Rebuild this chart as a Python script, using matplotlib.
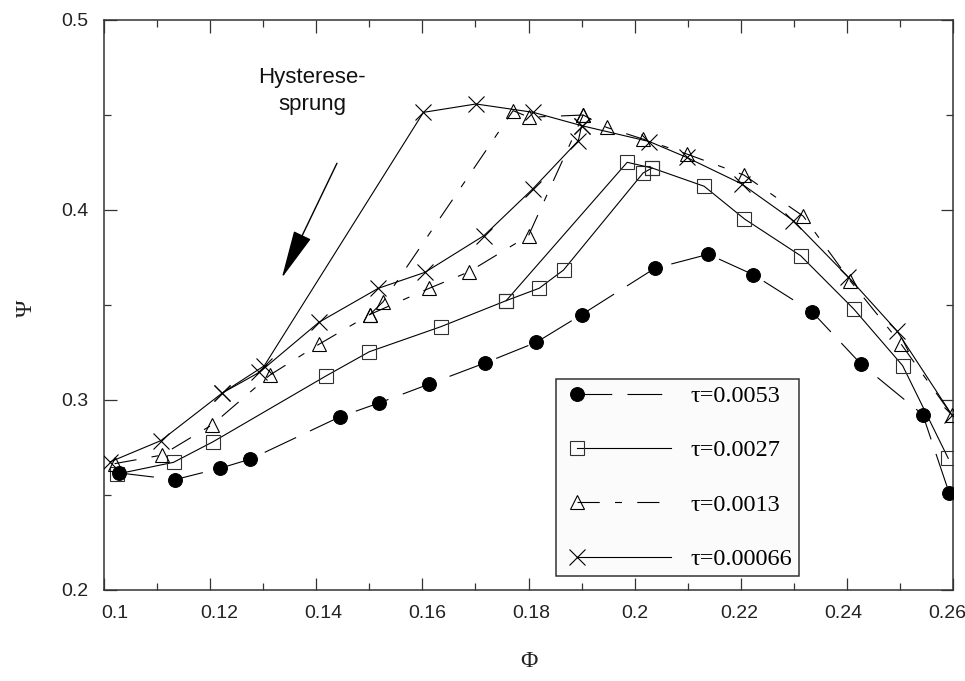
import numpy as np
import matplotlib
matplotlib.use("Agg")
import matplotlib.pyplot as plt
from matplotlib.legend_handler import HandlerLine2D
from matplotlib.ticker import MultipleLocator, FormatStrFormatter
from matplotlib.transforms import ScaledTranslation

plt.rcParams["lines.scale_dashes"] = False

# ---- measured data: Psi over Phi for four relaxation times tau ----
tau_labels = ["τ=0.0053", "τ=0.0027", "τ=0.0013", "τ=0.00066"]

# tau = 0.0053 (filled circles, single branch)
phi_c = [0.1029, 0.1134, 0.1219, 0.1276, 0.1445, 0.1518, 0.1613, 0.1718, 0.1815,
         0.1900, 0.2038, 0.2139, 0.2224, 0.2334, 0.2426, 0.2543, 0.2593]
psi_c = [0.2616, 0.2581, 0.2641, 0.2689, 0.2912, 0.2984, 0.3084, 0.3195, 0.3304,
         0.3449, 0.3693, 0.3767, 0.3659, 0.3465, 0.3191, 0.2923, 0.2509]

# tau = 0.0027 (open squares): rising sweep and return jump
phi_s = [0.1024, 0.1131, 0.1206, 0.1418, 0.1500, 0.1635, 0.1758, 0.1820, 0.1866,
         0.2016, 0.2033, 0.2131, 0.2207, 0.2313, 0.2413, 0.2505, 0.2591]
psi_s = [0.2610, 0.2672, 0.2781, 0.3126, 0.3254, 0.3386, 0.3523, 0.3588, 0.3684,
         0.4195, 0.4221, 0.4125, 0.3953, 0.3759, 0.3479, 0.3181, 0.2693]
phi_s_back = [0.2033, 0.1986, 0.1758]
psi_s_back = [0.4221, 0.4251, 0.3523]

# tau = 0.0013 (open triangles): rising sweep and return branch
phi_t = [0.1020, 0.1109, 0.1204, 0.1313, 0.1405, 0.1501, 0.1613, 0.1688, 0.1800,
         0.1903, 0.1947, 0.2015, 0.2098, 0.2206, 0.2318, 0.2406, 0.2502, 0.2598]
psi_t = [0.2665, 0.2710, 0.2870, 0.3132, 0.3293, 0.3450, 0.3588, 0.3675, 0.3865,
         0.4500, 0.4435, 0.4374, 0.4295, 0.4184, 0.3967, 0.3628, 0.3295, 0.2921]
phi_t_back = [0.1903, 0.1801, 0.1771, 0.1526, 0.1501]
psi_t_back = [0.4500, 0.4488, 0.4523, 0.3517, 0.3450]

# tau = 0.00066 (crosses): rising sweep and return branch
phi_x = [0.1012, 0.1107, 0.1223, 0.1293, 0.1405, 0.1517, 0.1605, 0.1716, 0.1808,
         0.1894, 0.1900, 0.2028, 0.2098, 0.2202, 0.2299, 0.2403, 0.2494, 0.2598]
psi_x = [0.2675, 0.2786, 0.3037, 0.3146, 0.3409, 0.3588, 0.3672, 0.3865, 0.4111,
         0.4365, 0.4444, 0.4360, 0.4277, 0.4137, 0.3944, 0.3646, 0.3365, 0.2921]
phi_x_back = [0.1900, 0.1809, 0.1701, 0.1602, 0.1302, 0.1223]
psi_x_back = [0.4444, 0.4514, 0.4558, 0.4514, 0.3180, 0.3037]

x_ticks = [0.1, 0.12, 0.14, 0.16, 0.18, 0.2, 0.22, 0.24, 0.26]
y_ticks = [0.2, 0.3, 0.4, 0.5]

# ---- figure ----
fig = plt.figure(figsize=(9.65, 6.81), dpi=100)
ax = fig.add_axes([104 / 965, 1 - 590 / 681, (953 - 104) / 965, (590 - 20) / 681])

lw = 0.8
dash_c = (0, (25, 11))
dash_t = (0, (16, 11, 5, 11))

styles = [
    dict(marker="o", ms=10, mfc="black", mec="black", mew=0.7, ls=dash_c),
    dict(marker="s", ms=9.5, mfc="none", mec="#303030", mew=0.8, ls="-"),
    dict(marker="^", ms=10, mfc="none", mec="black", mew=0.8, ls=dash_t),
    dict(marker="x", ms=11, mfc="none", mec="black", mew=0.8, ls="-"),
]

main_data = [(phi_c, psi_c), (phi_s, psi_s), (phi_t, psi_t), (phi_x, psi_x)]
back_data = [None, (phi_s_back, psi_s_back), (phi_t_back, psi_t_back),
             (phi_x_back, psi_x_back)]

handles = {}
for i in [1, 2, 3, 0]:
    st = styles[i]
    phi, psi = main_data[i]
    h, = ax.plot(phi, psi, color="black", lw=lw, zorder=4 if i == 0 else 3, **st)
    handles[i] = h
    if back_data[i] is not None:
        bphi, bpsi = back_data[i]
        ax.plot(bphi, bpsi, color="black", lw=lw, zorder=3, **st)
handles = [handles[i] for i in range(4)]

ax.set_xlim(0.1, 0.26)
ax.set_ylim(0.2, 0.5)
ax.set_xticks(x_ticks)
ax.set_yticks(y_ticks)
ax.xaxis.set_minor_locator(MultipleLocator(0.01))
ax.yaxis.set_minor_locator(MultipleLocator(0.05))
ax.xaxis.set_major_formatter(FormatStrFormatter("%g"))
ax.yaxis.set_major_formatter(FormatStrFormatter("%g"))

ax.tick_params(which="both", direction="in", top=True, right=True,
               color="#333333", width=0.9)
ax.tick_params(which="major", length=9, labelsize=14, pad=11,
               labelcolor="#222222")
ax.tick_params(which="minor", length=5)
for lab in ax.get_xticklabels() + ax.get_yticklabels():
    lab.set_family("Liberation Sans")

# x tick labels are spread a little narrower than the ticks themselves
n = len(x_ticks)
for k, lab in enumerate(ax.get_xticklabels()):
    dx = 11 - 17 * k / (n - 1)
    lab.set_transform(lab.get_transform()
                      + ScaledTranslation(dx / 100, 0, fig.dpi_scale_trans))

for sp in ax.spines.values():
    sp.set_color("#333333")
    sp.set_linewidth(1.1)

ax.set_xlabel("Φ", family="Liberation Serif", fontsize=17, color="#222222")
ax.xaxis.set_label_coords(0.5, -0.107)
ax.set_ylabel("Ψ", family="Liberation Serif", fontsize=17, color="#222222")
ax.yaxis.set_label_coords(-0.079, 0.495)

# annotation of the hysteresis jump
ax.text(0.1392, 0.4626, "Hysterese-\nsprung", ha="center", va="center",
        fontsize=16, family="Liberation Sans", linespacing=1.4, color="#111111")
ax.annotate("", xy=(0.1335, 0.3642), xytext=(0.1439, 0.4246),
            arrowprops=dict(arrowstyle="-|>,head_length=3.1,head_width=0.6",
                            color="black", lw=1.0, shrinkA=0, shrinkB=0,
                            mutation_scale=10))


class MarkerAtStart(HandlerLine2D):
    """Legend entry with the marker at the left end of the line sample."""

    def create_artists(self, legend, orig_handle, xdescent, ydescent, width,
                       height, fontsize, trans):
        arts = super().create_artists(legend, orig_handle, xdescent, ydescent,
                                      width, height, fontsize, trans)
        line = arts[0]
        x = line.get_xdata()
        y = line.get_ydata()
        off = 0.62 * fontsize
        line.set_data([x[0] + off, x[-1]], [y[0], y[-1]])
        line.set_markevery([0])
        return arts


leg = ax.legend(handles, tau_labels, loc="upper left",
                bbox_to_anchor=((556 - 104) / 849, (590 - 379) / 570),
                borderaxespad=0, prop={"family": "Liberation Serif", "size": 17.5},
                handler_map={h: MarkerAtStart(numpoints=1) for h in handles},
                handlelength=4.5, handletextpad=0.8, labelspacing=1.33,
                borderpad=0.25, frameon=True, fancybox=False, framealpha=1)
leg.get_frame().set_edgecolor("#333333")
leg.get_frame().set_linewidth(1.1)
leg.get_frame().set_facecolor("#fbfbfb")
leg.set_zorder(10)

fig.savefig("out.png", dpi=100, facecolor="white")
